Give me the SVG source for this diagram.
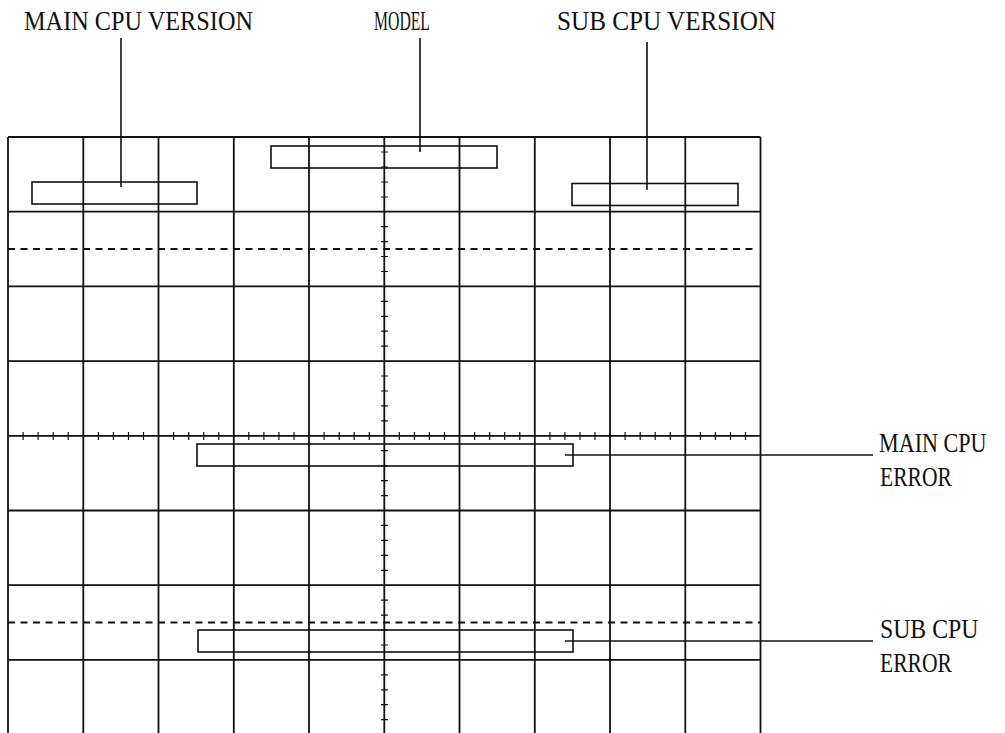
<svg xmlns="http://www.w3.org/2000/svg" width="1005" height="733" viewBox="0 0 1005 733">
<style>
.g{stroke:#111;stroke-width:1.8;fill:none}
.d{stroke:#111;stroke-width:2;fill:none;stroke-dasharray:7 5.5}
.t{stroke:#111;stroke-width:1.2;fill:none}
.box{stroke:#111;stroke-width:1.6;fill:none}
.ld{stroke:#111;stroke-width:1.6;fill:none}
.lbl{font-family:"Liberation Serif","DejaVu Serif",serif;font-size:27px;fill:#111}
</style>
<rect width="1005" height="733" fill="#fff"/>
<g id="grid">
<path class="g" d="M8 137V733M83.3 137V733M158.5 137V733M233.8 137V733M309 137V733M384.3 137V733M459.5 137V733M534.8 137V733M610 137V733M685.3 137V733M760.5 137V733"/>
<path class="g" d="M8 137H760.5M8 211.7H760.5M8 286.4H760.5M8 361.1H760.5M8 435.8H760.5M8 510.5H760.5M8 585.2H760.5M8 659.9H760.5"/>
<path class="d" d="M8 249H757"/>
<path class="d" d="M8 622.5H760.5"/>
<path class="t" d="M381 152H388M381 167H388M381 182H388M381 197H388M381 226.6H388M381 241.6H388M381 256.5H388M381 271.5H388M381 301.3H388M381 316.3H388M381 331.2H388M381 346.1H388M381 376H388M381 391H388M381 405.9H388M381 420.9H388M381 450.7H388M381 465.7H388M381 480.6H388M381 495.6H388M381 525.4H388M381 540.4H388M381 555.3H388M381 570.3H388M381 600.1H388M381 615.1H388M381 630H388M381 645H388M381 674.8H388M381 689.8H388M381 704.7H388M381 719.7H388"/>
<path class="t" d="M23.1 432V440M38.1 432V440M53.2 432V440M68.2 432V440M98.4 432V440M113.4 432V440M128.5 432V440M143.5 432V440M173.6 432V440M188.7 432V440M203.7 432V440M218.8 432V440M248.8 432V440M263.9 432V440M278.9 432V440M294 432V440M324.1 432V440M339.2 432V440M354.2 432V440M369.3 432V440M399.3 432V440M414.4 432V440M429.4 432V440M444.5 432V440M474.6 432V440M489.7 432V440M504.7 432V440M519.8 432V440M549.9 432V440M564.9 432V440M580 432V440M595 432V440M625.1 432V440M640.2 432V440M655.2 432V440M670.3 432V440M700.4 432V440M715.4 432V440M730.5 432V440M745.5 432V440"/>
</g>
<g id="main-cpu-version">
<text class="lbl" x="24" y="30" textLength="229" lengthAdjust="spacingAndGlyphs">MAIN CPU VERSION</text>
<rect class="box" x="32" y="182" width="165" height="22"/>
</g>
<g id="model">
<text class="lbl" x="374" y="30" textLength="56" lengthAdjust="spacingAndGlyphs">MODEL</text>
<rect class="box" x="271" y="146" width="226" height="22"/>
</g>
<g id="sub-cpu-version">
<text class="lbl" x="557" y="30" textLength="219" lengthAdjust="spacingAndGlyphs">SUB CPU VERSION</text>
<rect class="box" x="572" y="183.5" width="166" height="22"/>
</g>
<g id="main-cpu-error">
<rect class="box" x="197" y="444" width="376" height="22"/>
<text class="lbl" transform="translate(879 452) scale(0.82 1)">MAIN CPU</text>
<text class="lbl" transform="translate(880 486) scale(0.8 1)">ERROR</text>
</g>
<g id="sub-cpu-error">
<rect class="box" x="198" y="630" width="375" height="22"/>
<text class="lbl" transform="translate(880 638) scale(0.88 1)">SUB CPU</text>
<text class="lbl" transform="translate(880 672) scale(0.8 1)">ERROR</text>
</g>
<g id="connectors">
<path class="ld" d="M121 38V187"/>
<path class="ld" d="M420 38V152"/>
<path class="ld" d="M647 42V190"/>
<path class="ld" d="M565 455H873"/>
<path class="ld" d="M565 641H873"/>
</g>
</svg>
